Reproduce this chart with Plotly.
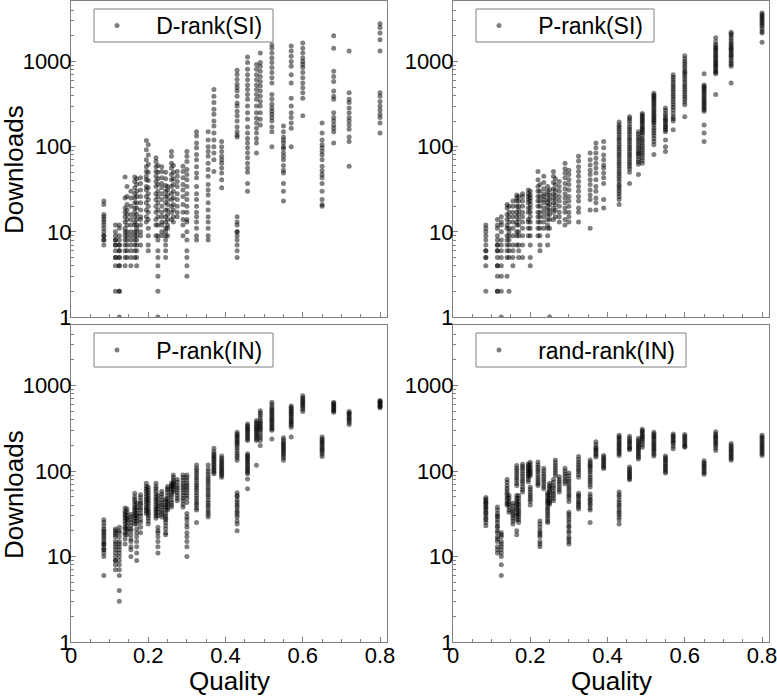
import plotly.graph_objects as go

# Quality levels (x columns shared by every panel)
quality_levels = [0.085, 0.115, 0.125, 0.14, 0.145, 0.155, 0.165, 0.17, 0.18, 0.195,
                  0.2, 0.22, 0.225, 0.235, 0.245, 0.25, 0.26, 0.265, 0.275, 0.29,
                  0.3, 0.325, 0.355, 0.37, 0.39, 0.43, 0.457, 0.48, 0.49, 0.52,
                  0.55, 0.57, 0.6, 0.65, 0.68, 0.72, 0.8]

# Downloads per quality level, D-rank(SI)
drank_si = [
    [23, 21, 16, 15, 14, 13, 12, 11, 10, 9, 9, 8, 8, 7],
    [12, 10, 9, 8, 8, 7, 7, 6, 5, 5, 4, 2],
    [12, 11, 9, 8, 7, 7, 6, 6, 5, 5, 4, 4, 2, 2, 1],
    [44, 25, 19, 17, 15, 13, 11, 10, 9, 8, 7, 6, 5, 4],
    [34, 26, 21, 18, 16, 14, 12, 10, 9, 8, 7, 6, 5],
    [30, 25, 20, 16, 14, 12, 10, 9, 8, 7, 6, 5, 4],
    [44, 39, 33, 28, 25, 22, 19, 17, 15, 13, 12, 10, 9, 8, 7, 6, 5],
    [42, 36, 30, 26, 22, 19, 16, 14, 12, 11, 10, 9, 8, 7, 6, 5, 4],
    [43, 37, 31, 26, 22, 18, 15, 14, 12, 10, 9, 7],
    [118, 92, 70, 58, 51, 45, 41, 34, 31, 26, 22, 18, 15, 13],
    [105, 80, 62, 50, 40, 33, 28, 24, 20, 17, 14, 11, 9, 7, 6],
    [74, 67, 58, 51, 45, 39, 34, 28, 24, 20, 17, 14, 12, 9],
    [60, 50, 42, 36, 30, 26, 22, 18, 15, 12, 9, 8, 6, 5, 4, 3, 2, 1],
    [58, 51, 43, 37, 33, 28, 24, 20, 17, 15, 13, 12, 10, 9],
    [50, 42, 35, 30, 26, 22, 18, 15, 13, 11, 10, 9, 8, 7, 6, 5],
    [34, 31, 27, 24, 21, 18, 16, 14, 12, 11, 9],
    [88, 77, 64, 56, 47, 41, 34, 28, 24, 20, 17, 14],
    [60, 50, 42, 36, 30, 25, 21, 18, 15, 13],
    [51, 45, 39, 34, 28, 24, 20, 17, 15],
    [59, 51, 43, 36, 31, 26, 21, 17, 14, 12, 9],
    [88, 77, 67, 54, 47, 41, 34, 28, 24, 20, 17, 14, 13, 10, 8, 6, 5, 4, 3],
    [150, 133, 110, 97, 81, 70, 58, 49, 43, 34, 28, 24, 20, 17, 15, 13, 11, 9, 8],
    [150, 120, 100, 88, 77, 64, 54, 45, 36, 31, 27, 22, 18, 15, 13, 11, 9, 8],
    [470, 390, 330, 275, 240, 200, 175, 145, 120, 100, 84, 70, 51],
    [115, 100, 88, 77, 70, 64, 56, 49, 41, 33],
    [790, 705, 615, 540, 490, 450, 390, 325, 300, 260, 230, 200, 170, 150, 137, 130,
     15, 13, 12, 10, 10, 9, 8, 7, 6, 5],
    [1130, 970, 810, 700, 610, 530, 470, 410, 360, 300, 250, 210, 170, 145, 125, 110,
     97, 85, 74, 64, 56, 50, 37, 30],
    [920, 810, 700, 610, 530, 470, 410, 360, 300, 250, 215, 190, 165, 145, 125, 110, 84],
    [1260, 970, 880, 770, 665, 580, 515, 450, 390, 340, 300, 250, 210, 180],
    [1570, 1430, 1260, 1100, 970, 850, 740, 645, 560, 410, 360, 315, 285, 260, 240, 220,
     200, 170, 150, 100],
    [175, 150, 130, 120, 110, 100, 95, 85, 77, 70, 60, 53, 49, 37, 30, 23],
    [1520, 1330, 1150, 1000, 880, 700, 560, 370, 300, 250, 220, 190, 165, 100],
    [1650, 1430, 1260, 1100, 1000, 920, 850, 740, 645, 560, 490, 430, 370, 230],
    [190, 145, 120, 105, 97, 88, 80, 70, 59, 52, 47, 43, 37, 30, 24, 21, 20],
    [2000, 1430, 770, 665, 580, 450, 390, 360, 250, 220, 200, 180, 165, 150, 110],
    [1330, 430, 360, 330, 285, 250, 220, 200, 180, 160, 130, 115, 59],
    [2770, 2500, 2160, 1800, 1330, 430, 390, 340, 300, 270, 240, 220, 190, 145],
]

# Downloads per quality level, P-rank(SI)
prank_si = [
    [12, 11, 10, 9, 8, 7, 6, 6, 5, 5, 4, 2],
    [14, 12, 11, 9, 8, 7, 7, 6, 6, 5, 4, 4, 3, 2, 2],
    [15, 13, 12, 10, 8, 7, 6, 5, 4, 3, 2, 1],
    [21, 19, 16, 14, 12, 11, 9, 8, 7, 6, 5, 3],
    [20, 17, 15, 13, 11, 10, 9, 8, 7, 6, 5, 2],
    [23, 20, 17, 15, 13, 11, 9, 7, 6, 5, 4],
    [27, 25, 23, 20, 17, 15, 13, 12, 10, 9, 7],
    [26, 23, 20, 18, 16, 14, 12, 10, 9, 7, 6, 5],
    [28, 26, 23, 20, 17, 15, 13, 11, 9, 7, 5],
    [31, 28, 26, 24, 22, 19, 17, 14, 13, 11, 9],
    [30, 27, 25, 23, 21, 19, 17, 15, 13, 11, 9, 7, 5, 4],
    [51, 41, 34, 30, 26, 23, 20, 17, 15, 13, 11, 9],
    [36, 30, 26, 23, 20, 17, 15, 13, 11, 9, 7, 6],
    [45, 38, 32, 28, 26, 24, 22, 19, 17, 15, 13, 11],
    [34, 30, 27, 24, 22, 20, 18, 16, 14, 12, 11, 9, 7],
    [31, 27, 24, 21, 18, 16, 14, 11, 1],
    [51, 45, 38, 32, 28, 25, 22, 19, 17, 14],
    [42, 36, 31, 27, 24, 21, 18, 15],
    [39, 34, 30, 26, 23, 20, 17, 15, 13],
    [64, 55, 49, 43, 37, 32, 28, 25, 22, 19, 17, 14, 12],
    [53, 47, 41, 36, 31, 26, 23, 20, 17, 15, 13],
    [77, 68, 58, 51, 45, 39, 34, 30, 26, 23, 19, 17, 13],
    [84, 70, 61, 53, 47, 41, 36, 31, 27, 24, 18, 11],
    [110, 97, 84, 73, 64, 56, 49, 41, 34, 30, 25, 22, 18],
    [115, 97, 80, 70, 61, 56, 49, 43, 37, 24, 19],
    [195, 180, 170, 160, 150, 140, 130, 122, 115, 107, 100, 94, 88, 82, 77, 72, 67, 63,
     59, 55, 51, 48, 45, 42, 39, 36, 34, 32, 30, 28, 26, 24, 21],
    [225, 212, 200, 185, 170, 160, 150, 140, 130, 122, 115, 107, 100, 94, 88, 82, 77, 72,
     67, 63, 59, 55, 50, 37],
    [150, 140, 130, 122, 115, 107, 100, 94, 88, 84, 81, 76, 70, 66, 62, 47],
    [245, 235, 225, 215, 205, 197, 190, 180, 170, 164, 158, 150, 145, 135, 125, 118, 110,
     103, 97, 91, 85, 80, 74, 69, 64],
    [425, 405, 390, 375, 360, 345, 330, 315, 300, 285, 270, 258, 245, 235, 225, 215, 205,
     197, 190, 178, 165, 155, 145, 135, 125, 115, 105, 81],
    [285, 265, 245, 230, 215, 207, 200, 190, 180, 172, 165, 157, 150, 120, 100, 88],
    [700, 655, 610, 570, 530, 500, 470, 440, 410, 385, 360, 335, 310, 290, 270, 245, 225,
     212, 200, 158],
    [1170, 1080, 1000, 940, 880, 820, 770, 735, 700, 655, 610, 570, 530, 500, 470, 440,
     410, 385, 360, 335, 310, 225],
    [720, 530, 510, 490, 470, 450, 430, 410, 390, 370, 355, 340, 325, 310, 297, 285, 272,
     260, 180, 145, 115],
    [1900, 1700, 1570, 1500, 1430, 1380, 1330, 1260, 1200, 1150, 1100, 1050, 1000, 960,
     920, 885, 850, 810, 770, 745, 720, 410],
    [2200, 2100, 2000, 1870, 1750, 1650, 1570, 1500, 1430, 1380, 1330, 1260, 1200, 1150,
     1100, 1030, 970, 920, 880, 560],
    [3700, 3550, 3400, 3250, 3100, 2980, 2850, 2720, 2600, 2420, 2250, 2160, 1680],
]

# Downloads per quality level, P-rank(IN)
prank_in = [
    [27, 25, 23, 21, 20, 19, 18, 17, 16, 15, 14, 14, 13, 12, 12, 11, 10, 6],
    [21, 20, 19, 18, 17, 15, 14, 13, 12, 11, 10, 9, 9, 8, 7],
    [22, 20, 19, 17, 15, 14, 13, 12, 11, 10, 9, 8, 7, 6, 4, 3],
    [37, 34, 32, 30, 28, 26, 24, 22, 21, 19, 18, 16, 14],
    [36, 33, 30, 28, 27, 25, 23, 21, 20, 18],
    [31, 29, 27, 25, 23, 21, 20, 18, 16, 15, 13, 12, 10],
    [55, 50, 47, 44, 41, 38, 36, 34, 32, 30, 28, 26, 24],
    [42, 38, 35, 32, 30, 28, 26, 24, 21, 19, 17, 15, 13, 11, 9],
    [53, 49, 45, 42, 40, 37, 35, 32, 30, 27, 25, 22, 19],
    [72, 66, 62, 58, 54, 50, 47, 44, 41, 38, 36, 34, 32],
    [65, 60, 56, 52, 48, 45, 42, 39, 36, 34, 32, 30, 28, 26, 24],
    [72, 66, 62, 58, 54, 50, 47, 44, 41, 38, 36, 34, 32, 30, 28],
    [52, 47, 42, 39, 36, 33, 30, 22, 20, 19, 17, 15, 13, 11],
    [58, 54, 50, 46, 43, 40, 38, 35, 33, 31, 29],
    [47, 44, 40, 38, 35, 32, 30, 28, 27, 25, 23, 21, 19, 18],
    [66, 62, 60, 56, 52, 48, 45, 42, 40, 37, 35],
    [72, 68, 65, 61, 57, 53, 50, 46, 43, 40, 38],
    [90, 84, 78, 74, 71, 68, 65, 61, 57],
    [80, 74, 68, 64, 60, 56, 52, 48, 45],
    [90, 84, 78, 72, 68, 64, 60, 56, 52, 48, 45, 41, 38],
    [90, 84, 78, 72, 68, 64, 60, 56, 52, 48, 43, 32, 29, 27, 24, 22, 19, 17, 15, 13, 10],
    [118, 108, 102, 95, 89, 83, 78, 72, 68, 64, 60, 56, 52, 48, 45, 42, 40, 37, 35, 25],
    [118, 106, 98, 91, 85, 80, 75, 70, 65, 61, 57, 53, 50, 46, 43, 40, 38, 35, 33, 31, 29],
    [185, 170, 160, 152, 146, 140, 134, 128, 122, 116, 111, 106, 102, 97, 93],
    [150, 141, 134, 128, 122, 116, 111, 106, 102, 97, 93, 89, 85],
    [285, 270, 260, 250, 238, 228, 218, 209, 200, 187, 174, 162, 152, 143, 134,
     56, 52, 50, 46, 43, 40, 38, 35, 33, 31, 29, 26, 24, 20],
    [355, 340, 325, 312, 300, 286, 273, 261, 250, 238, 228,
     160, 152, 146, 140, 134, 128, 122, 116, 111, 106, 102, 97, 93, 81, 62],
    [390, 370, 355, 340, 325, 312, 300, 286, 273, 261, 250, 238, 228, 117],
    [510, 480, 450, 420, 390, 370, 355, 340, 325, 312, 300, 280, 260, 244, 228, 200],
    [640, 600, 560, 535, 510, 487, 465, 445, 425, 407, 390, 372, 355, 340, 325, 312, 300, 238],
    [245, 232, 218, 209, 200, 191, 183, 175, 167, 160, 152, 143, 134],
    [580, 555, 530, 510, 490, 470, 450, 430, 410, 392, 375, 360, 345, 325, 250],
    [760, 720, 690, 660, 635, 610, 585, 560, 530, 500],
    [250, 238, 228, 218, 210, 200, 190, 182, 175, 167, 157, 148],
    [640, 620, 600, 580, 560, 540, 520, 505, 490],
    [500, 480, 465, 445, 425, 408, 390, 370, 350],
    [670, 655, 640, 620, 600, 580, 565, 550],
]

# Downloads per quality level, rand-rank(IN)
randrank_in = [
    [49, 47, 45, 43, 42, 40, 38, 37, 35, 33, 32, 30, 28, 27, 25, 23],
    [38, 35, 32, 30, 29, 27, 25, 23, 22, 20, 19, 17, 16, 15, 13, 12, 11],
    [19, 18, 17, 15, 14, 13, 12, 11, 10, 8, 6],
    [80, 74, 68, 63, 59, 55, 52, 48, 45, 42, 40],
    [52, 48, 44, 41, 38, 35, 33],
    [42, 39, 36, 34, 32, 30, 28, 26, 24],
    [116, 108, 102, 95, 89, 83, 78, 72, 68, 52, 48, 45, 42, 40, 37, 35, 32, 30, 27, 20, 18],
    [52, 48, 44, 41, 38, 35, 33, 31, 29, 27, 25],
    [120, 113, 107, 100, 93, 87, 81, 76, 71, 65, 61, 57],
    [122, 116, 111, 106, 102, 97, 93, 89, 85, 80, 75],
    [127, 118, 110, 104, 98, 93, 88, 65, 61, 57, 53, 50, 47, 44, 40],
    [128, 118, 111, 104, 98, 91, 85, 80, 75, 71, 68],
    [26, 24, 22, 20, 19, 18, 17, 15, 14, 13],
    [108, 100, 93, 87, 81, 76, 71, 66, 62],
    [56, 53, 50, 47, 45, 43, 41, 38, 36, 34, 32, 30, 28, 26, 25],
    [72, 68, 65, 62, 59, 56, 52, 48, 45, 43, 41],
    [80, 74, 68, 64, 59, 55, 52, 48, 45],
    [135, 125, 116, 109, 102, 95, 89],
    [86, 80, 75, 70, 65, 61, 57],
    [108, 100, 93, 87, 81, 76, 71],
    [95, 88, 81, 76, 71, 66, 62, 58, 54, 51, 48, 44,
     33, 31, 29, 27, 25, 23, 22, 20, 19, 17, 16, 15, 14],
    [148, 137, 127, 119, 111, 104, 98, 91, 85, 55, 52, 50, 47, 44, 42, 40, 38, 36],
    [135, 127, 120, 115, 111, 104, 98, 91, 85, 80, 75, 70, 65,
     54, 50, 47, 45, 42, 40, 37, 35, 25],
    [220, 205, 190, 183, 177, 168, 160, 153, 146],
    [152, 145, 139, 133, 127, 121, 116, 111, 107],
    [262, 250, 240, 229, 218, 209, 200, 191, 183, 175, 167, 160, 152,
     57, 53, 50, 46, 43, 40, 38, 35, 33, 31, 29, 27, 24],
    [255, 240, 228, 219, 210, 200, 190, 184, 178, 112, 106, 101, 97, 93, 89, 86, 82, 79],
    [242, 230, 218, 209, 200, 191, 183, 175, 167, 160, 152, 145, 139],
    [310, 297, 285, 272, 260, 250, 240, 229, 218, 204, 190],
    [285, 272, 260, 250, 240, 229, 218, 209, 200, 191, 183, 175, 167, 158, 150],
    [150, 143, 137, 131, 125, 119, 114, 109, 104, 99, 95],
    [272, 260, 250, 239, 228, 219, 210, 196, 183],
    [268, 256, 245, 234, 223, 213, 203, 196, 190],
    [132, 125, 120, 115, 110, 105, 100, 96, 92],
    [288, 272, 260, 250, 240, 229, 218, 209, 200, 187, 174],
    [210, 200, 190, 182, 174, 167, 160, 153, 146, 140, 134],
    [262, 250, 240, 229, 218, 209, 200, 191, 183, 175, 167, 160, 152],
]

series_names = ["D-rank(SI)", "P-rank(SI)", "P-rank(IN)", "rand-rank(IN)"]
series_data = [drank_si, prank_si, prank_in, randrank_in]

W, H = 777, 696
FONT = "Liberation Sans, Arial, Helvetica, sans-serif"
FRAME = "#808080"

def px_x(p):
    return p / W

def px_y(p):
    return 1 - p / H

x_domains = [[px_x(71), px_x(387)], [px_x(453), px_x(769)]]
y_domains = [[px_y(317), px_y(1)], [px_y(642), px_y(325)]]

fig = go.Figure()

minor_y = [k * 10 ** e for e in range(0, 4) for k in range(2, 10)]

# legend boxes (left, top, right, bottom) in pixels
legend_boxes = [(94, 9, 273, 42), (476, 9, 654, 42), (94, 333, 273, 367), (476, 333, 686, 367)]

shapes = []
for i, (name, cols) in enumerate(zip(series_names, series_data)):
    row, col = divmod(i, 2)
    xs, ys = [], []
    for q, vals in zip(quality_levels, cols):
        for v in vals:
            xs.append(q)
            ys.append(v)
    ax = "" if i == 0 else str(i + 1)
    lg = "legend" if i == 0 else f"legend{i + 1}"
    fig.add_trace(go.Scatter(
        x=xs, y=ys, mode="markers", name="\u00a0\u00a0\u00a0" + name,
        marker=dict(color="black", opacity=0.5, size=5, line=dict(width=0)),
        xaxis="x" + ax, yaxis="y" + ax, legend=lg, showlegend=True,
    ))
    xaxis = dict(
        domain=x_domains[col], range=[0, 0.818], anchor="y" + ax, automargin=False,
        showline=True, linecolor=FRAME, linewidth=1, mirror=True,
        ticks="inside", ticklen=5, tickcolor=FRAME, tickwidth=1,
        tickvals=[0, 0.2, 0.4, 0.6, 0.8], ticktext=["0", "0.2", "0.4", "0.6", "0.8"],
        showticklabels=(row == 1), showgrid=False, zeroline=False,
        ticklabeloverflow="allow", ticklabelstandoff=-6,
        tickfont=dict(family=FONT, size=22, color="black"),
        minor=dict(dtick=0.05, tick0=0, ticks="inside", ticklen=3, tickcolor=FRAME, showgrid=False),
    )
    yaxis = dict(
        domain=y_domains[row], type="log", range=[0, 3.71], anchor="x" + ax, automargin=False,
        showline=True, linecolor=FRAME, linewidth=1, mirror=True,
        ticks="inside", ticklen=5, tickcolor=FRAME, tickwidth=1,
        tickvals=[1, 10, 100, 1000], ticktext=["1", "10", "100", "1000"],
        showgrid=False, zeroline=False,
        ticklabeloverflow="allow", ticklabelstandoff=-6,
        tickfont=dict(family=FONT, size=22, color="black"),
        minor=dict(tickvals=minor_y, ticks="inside", ticklen=3, tickcolor=FRAME, showgrid=False),
    )
    fig.layout["xaxis" + ax] = xaxis
    fig.layout["yaxis" + ax] = yaxis
    l, t, r, b = legend_boxes[i]
    shapes.append(dict(type="rect", xref="paper", yref="paper",
                       x0=px_x(l), x1=px_x(r), y0=px_y(b), y1=px_y(t),
                       line=dict(color=FRAME, width=1), fillcolor="white", layer="above"))
    fig.layout[lg] = dict(
        x=px_x(l + 3), y=px_y((t + b) / 2), xanchor="left", yanchor="middle",
        bgcolor="rgba(0,0,0,0)", borderwidth=0,
        font=dict(family=FONT, size=23, color="black"),
        itemsizing="trace",
    )

annotations = []
for yc in (170, 495):
    annotations.append(dict(text="Downloads", x=px_x(14), y=px_y(yc), xref="paper", yref="paper",
                            showarrow=False, textangle=-90, xanchor="center", yanchor="middle",
                            font=dict(family=FONT, size=26, color="black")))
for xc in (229, 611):
    annotations.append(dict(text="Quality", x=px_x(xc), y=px_y(681), xref="paper", yref="paper",
                            showarrow=False, xanchor="center", yanchor="middle",
                            font=dict(family=FONT, size=26, color="black")))

fig.update_layout(
    width=W, height=H, margin=dict(l=0, r=0, t=0, b=0, autoexpand=False),
    paper_bgcolor="white", plot_bgcolor="white",
    annotations=annotations, shapes=shapes,
)

fig.write_html("out.html", config={"displayModeBar": False},
               post_script="document.body.style.margin='0px';")
